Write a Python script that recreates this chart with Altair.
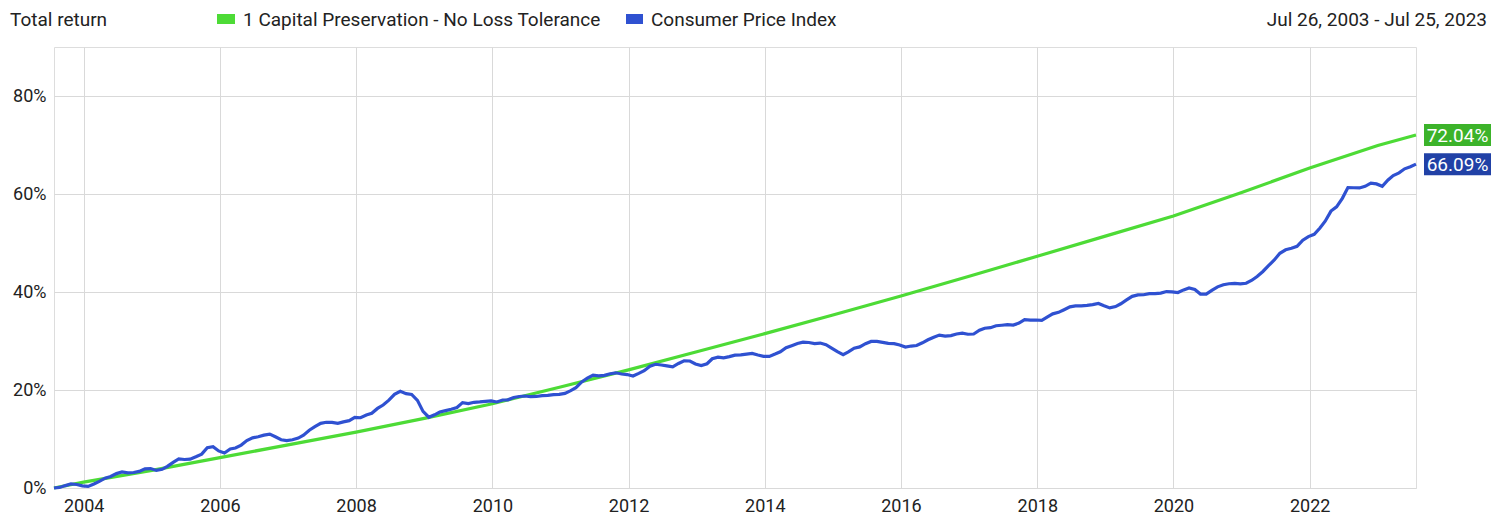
import altair as alt
import pandas as pd

# ---- Data ----
SERIES_GREEN = "1 Capital Preservation - No Loss Tolerance"
SERIES_BLUE = "Consumer Price Index"

# Consumer Price Index levels (monthly, Jun 2003 .. Jun 2023)
cpi_2003 = [183.7, 183.9, 184.6, 185.2, 185.0, 184.5, 184.3]
cpi_2004 = [185.2, 186.2, 187.4, 188.0, 189.1, 189.7, 189.4, 189.5, 189.9, 190.9, 191.0, 190.3]
cpi_2005 = [190.7, 191.8, 193.3, 194.6, 194.4, 194.5, 195.4, 196.4, 198.8, 199.2, 197.6, 196.8]
cpi_2006 = [198.3, 198.7, 199.8, 201.5, 202.5, 202.9, 203.5, 203.9, 202.9, 201.8, 201.5, 201.8]
cpi_2007 = [202.416, 203.499, 205.352, 206.686, 207.949, 208.352, 208.299, 207.917, 208.490, 208.936, 210.177, 210.036]
cpi_2008 = [211.080, 211.693, 213.528, 214.823, 216.632, 218.815, 219.964, 219.086, 218.783, 216.573, 212.425, 210.228]
cpi_2009 = [211.143, 212.193, 212.709, 213.240, 213.856, 215.693, 215.351, 215.834, 215.969, 216.177, 216.330, 215.949]
cpi_2010 = [216.687, 216.741, 217.631, 218.009, 218.178, 217.965, 218.011, 218.312, 218.439, 218.711, 218.803, 219.179]
cpi_2011 = [220.223, 221.309, 223.467, 224.906, 225.964, 225.722, 225.922, 226.545, 226.889, 226.421, 226.230, 225.672]
cpi_2012 = [226.665, 227.663, 229.392, 230.085, 229.815, 229.478, 229.104, 230.379, 231.407, 231.317, 230.221, 229.601]
cpi_2013 = [230.280, 232.166, 232.773, 232.531, 232.945, 233.504, 233.596, 233.877, 234.149, 233.546, 233.069, 233.049]
cpi_2014 = [233.916, 234.781, 236.293, 237.072, 237.900, 238.343, 238.250, 237.852, 238.031, 237.433, 236.151, 234.812]
cpi_2015 = [233.707, 234.722, 236.119, 236.599, 237.805, 238.638, 238.654, 238.316, 237.945, 237.838, 237.336, 236.525]
cpi_2016 = [236.916, 237.111, 238.132, 239.261, 240.229, 241.018, 240.628, 240.849, 241.428, 241.729, 241.353, 241.432]
cpi_2017 = [242.839, 243.603, 243.801, 244.524, 244.733, 244.955, 244.786, 245.519, 246.819, 246.663, 246.669, 246.524]
cpi_2018 = [247.867, 248.991, 249.554, 250.546, 251.588, 251.989, 252.006, 252.146, 252.439, 252.885, 252.038, 251.233]
cpi_2019 = [251.712, 252.776, 254.202, 255.548, 256.092, 256.143, 256.571, 256.558, 256.759, 257.346, 257.208, 256.974]
cpi_2020 = [257.971, 258.678, 258.115, 256.389, 256.394, 257.797, 259.101, 259.918, 260.280, 260.388, 260.229, 260.474]
cpi_2021 = [261.582, 263.014, 264.877, 267.054, 269.195, 271.696, 273.003, 273.567, 274.310, 276.589, 277.948, 278.802]
cpi_2022 = [281.148, 283.716, 287.504, 289.109, 292.296, 296.311, 296.276, 296.171, 296.808, 298.012, 297.711, 296.797]
cpi_2023 = [299.170, 300.840, 301.836, 303.363, 304.127, 305.109]

# Capital Preservation total return (%)
green_dates = ["2003-07-26", "2004-01-01", "2005-01-01", "2006-01-01", "2007-01-01", "2008-01-01",
               "2009-01-01", "2010-01-01", "2011-01-01", "2012-01-01", "2013-01-01", "2014-01-01",
               "2015-01-01", "2016-01-01", "2017-01-01", "2018-01-01", "2019-01-01", "2020-01-01",
               "2021-01-01", "2022-01-01", "2023-01-01", "2023-07-25"]
green_values = [0.0, 1.2, 3.6, 6.2, 8.8, 11.4, 14.2, 17.2, 20.6, 24.1, 27.8, 31.5,
                35.3, 39.2, 43.2, 47.3, 51.4, 55.5, 60.3, 65.3, 69.9, 72.04]

end_labels = ["72.04%", "66.09%"]
x_tick_years = [2004, 2006, 2008, 2010, 2012, 2014, 2016, 2018, 2020, 2022]
y_tick_values = [0, 20, 40, 60, 80]

# ---- Build tables ----
cpi_levels = (cpi_2003 + cpi_2004 + cpi_2005 + cpi_2006 + cpi_2007 + cpi_2008 + cpi_2009 +
              cpi_2010 + cpi_2011 + cpi_2012 + cpi_2013 + cpi_2014 + cpi_2015 + cpi_2016 +
              cpi_2017 + cpi_2018 + cpi_2019 + cpi_2020 + cpi_2021 + cpi_2022 + cpi_2023)
cpi_dates = ["2003-07-26"]
for i in range(1, len(cpi_levels)):
    m0 = 6 + i
    cpi_dates.append(f"{2003 + m0 // 12}-{m0 % 12 + 1:02d}-25")
base = cpi_levels[0]
cpi_returns = [round((v / base - 1) * 100, 2) for v in cpi_levels]

df_green = pd.DataFrame({"date": green_dates, "value": green_values, "series": SERIES_GREEN})
df_blue = pd.DataFrame({"date": cpi_dates, "value": cpi_returns, "series": SERIES_BLUE})
df_lines = pd.concat([df_green, df_blue], ignore_index=True)

df_end = pd.DataFrame({
    "date": [green_dates[-1], cpi_dates[-1]],
    "value": [green_values[-1], cpi_returns[-1]],
    "label": end_labels,
    "series": [SERIES_GREEN, SERIES_BLUE],
})

GREEN = "#4ddb36"
BLUE = "#2f51d1"
GREEN_BOX = "#3cb32a"
BLUE_BOX = "#2141a6"
TEXT = "#222222"
FONT = "Roboto"

x_scale = alt.Scale(domain=["2003-07-26", "2023-07-25"], nice=False)
y_scale = alt.Scale(domain=[0, 90], nice=False)

x_enc = alt.X(
    "date:T", scale=x_scale, title=None,
    axis=alt.Axis(
        values=[alt.DateTime(year=y, month=1, date=1) for y in x_tick_years],
        format="%Y", grid=True, gridColor="#d9d9d9", domain=False, ticks=False,
        labelFontSize=18, labelColor=TEXT, labelFont=FONT, labelPadding=23,
        labelBaseline="alphabetic", labelOverlap=False, labelFlush=False,
    ),
)
y_enc = alt.Y(
    "value:Q", scale=y_scale, title=None,
    axis=alt.Axis(
        values=y_tick_values, labelExpr="datum.value + '%'", grid=True, gridColor="#d9d9d9",
        domain=False, ticks=False, labelFontSize=18, labelColor=TEXT, labelFont=FONT,
        labelPadding=8,
    ),
)

lines = alt.Chart(df_lines).mark_line(strokeWidth=3.2, interpolate="linear").encode(
    x=x_enc,
    y=y_enc,
    color=alt.Color("series:N", scale=alt.Scale(domain=[SERIES_GREEN, SERIES_BLUE], range=[GREEN, BLUE]), legend=None),
    order=alt.Order("date:T"),
    detail="series:N",
)

boxes = alt.Chart(df_end).mark_rect(width=67, height=22, xOffset=41.5).encode(
    x=alt.X("date:T", scale=x_scale),
    y=alt.Y("value:Q", scale=y_scale),
    color=alt.Color("series:N", scale=alt.Scale(domain=[SERIES_GREEN, SERIES_BLUE], range=[GREEN_BOX, BLUE_BOX]), legend=None),
)
box_text = alt.Chart(df_end).mark_text(
    align="center", baseline="middle", dx=41.5, dy=1, fontSize=19, color="white", font=FONT
).encode(
    x=alt.X("date:T", scale=x_scale),
    y=alt.Y("value:Q", scale=y_scale),
    text="label:N",
)

dummy = alt.Data(values=[{"a": 1}])


def header_text(txt, x, align):
    return alt.Chart(dummy).mark_text(
        align=align, baseline="alphabetic", fontSize=19, color=TEXT, font=FONT
    ).encode(x=alt.value(x), y=alt.value(-21), text=alt.value(txt))


def legend_rect(x0, x1, color):
    return alt.Chart(dummy).mark_rect(color=color).encode(
        x=alt.value(x0), x2=alt.value(x1), y=alt.value(-33), y2=alt.value(-23)
    )


header = (
    header_text("Total return", -44, "left")
    + legend_rect(163, 181, GREEN)
    + header_text(SERIES_GREEN, 189, "left")
    + legend_rect(572, 589, BLUE)
    + header_text(SERIES_BLUE, 597, "left")
    + header_text("Jul 26, 2003 - Jul 25, 2023", 1433, "right")
)

chart = alt.layer(lines, boxes, box_text, header).resolve_scale(color="independent").properties(
    width=1362,
    height=441,
    autosize=alt.AutoSizeParams(type="none"),
    padding={"left": 46, "top": 39, "right": 83, "bottom": 27},
).configure_view(stroke=None).configure(font=FONT)

chart.save("out.html", embed_options={"renderer": "svg", "actions": False})
